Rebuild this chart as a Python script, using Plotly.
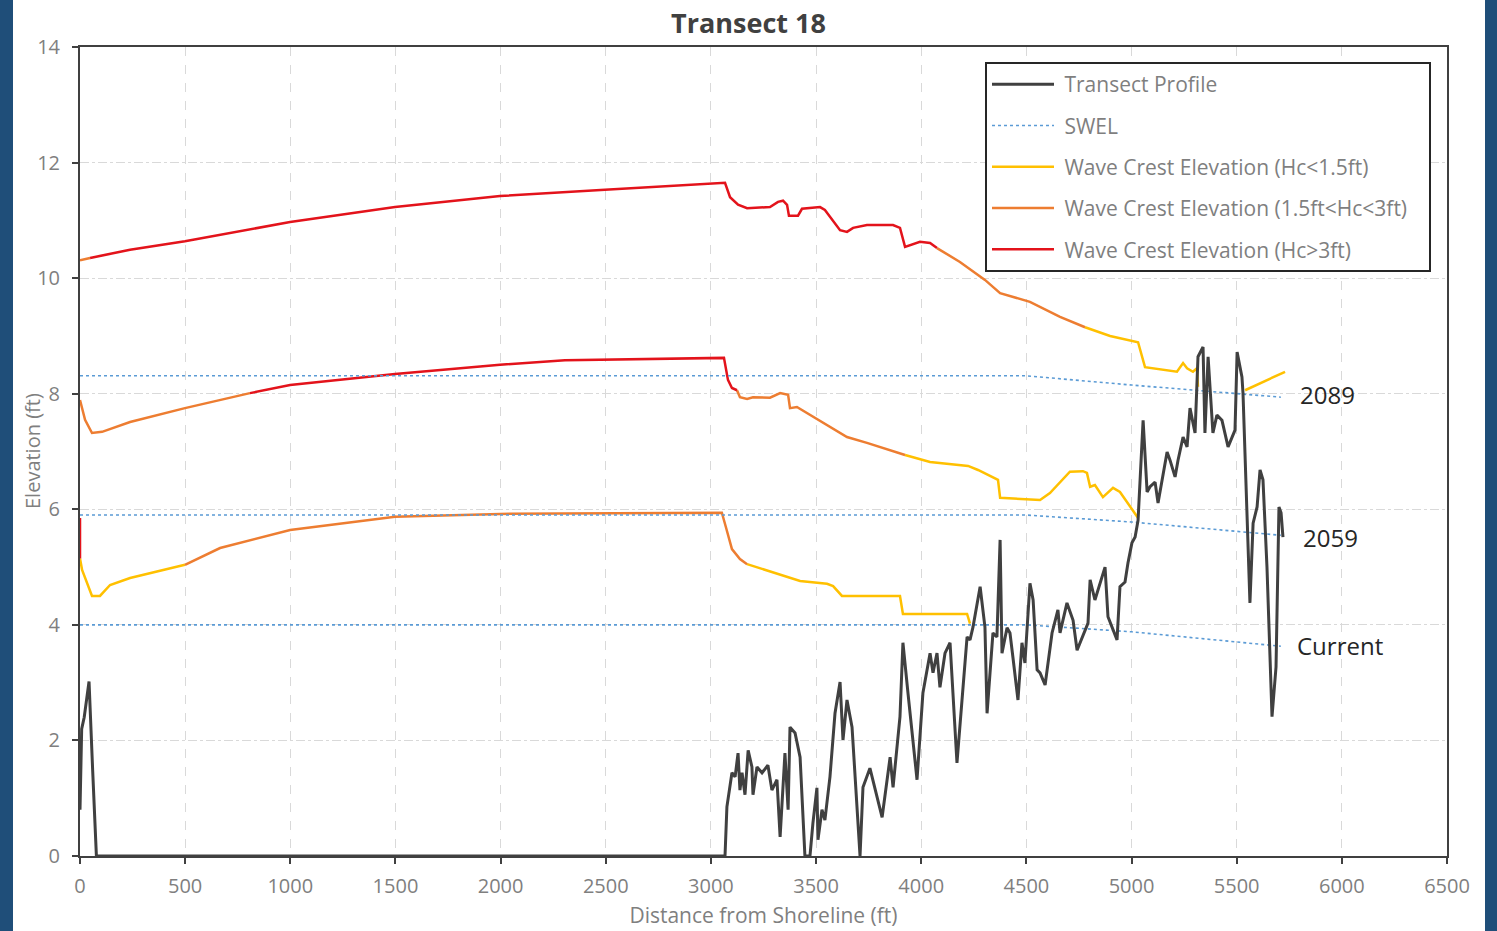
import plotly.graph_objects as go

# ---------------- data ----------------
profile_x = [0, 8, 20, 43, 60, 78, 3060,
             3067, 3076, 3100, 3115, 3129, 3138, 3148, 3162, 3177, 3195, 3200, 3219, 3243, 3271,
             3290, 3314, 3329, 3352, 3367, 3376, 3400, 3424, 3447, 3471, 3485, 3504, 3509, 3528,
             3542, 3566, 3590, 3614, 3628, 3647, 3671, 3709, 3723, 3756, 3814, 3852, 3866, 3899,
             3913, 3937, 3980, 4008, 4042, 4056, 4075, 4089, 4113, 4137, 4170, 4218, 4232, 4246,
             4280, 4303, 4313, 4341, 4360, 4375, 4384, 4408, 4422, 4436, 4460, 4479, 4493, 4517,
             4532, 4551, 4565, 4589, 4622, 4650, 4660, 4693, 4722, 4741, 4765, 4793, 4803, 4826,
             4874, 4888, 4931, 4945, 4969, 4983, 5002, 5017, 5031, 5055, 5074, 5088, 5112, 5126,
             5169, 5183, 5207, 5221, 5245, 5264, 5278, 5302, 5316, 5340, 5349, 5364, 5387, 5406,
             5430, 5459, 5492, 5502, 5525, 5530, 5563, 5578, 5597, 5611, 5625, 5644, 5668, 5687,
             5701, 5711, 5720]
profile_y = [0.8, 2.2, 2.4, 3.02, 1.5, 0, 0,
             0, 0.85, 1.44, 1.37, 1.78, 1.14, 1.44, 1.06, 1.83, 1.54, 1.06, 1.54, 1.44, 1.57,
             1.14, 1.32, 0.33, 1.78, 0.80, 2.23, 2.13, 1.71, 0, 0, 0.57, 1.18, 0.28, 0.80,
             0.62, 1.37, 2.47, 3.01, 2.01, 2.70, 2.23, 0, 1.19, 1.52, 0.67, 1.71, 1.19, 2.41,
             3.69, 2.82, 1.32, 2.82, 3.51, 3.17, 3.51, 2.92, 3.51, 3.69, 1.61, 3.79, 3.74, 3.96,
             4.66, 3.96, 2.47, 3.86, 3.79, 5.47, 3.51, 3.95, 3.86, 3.44, 2.70, 3.69, 3.34, 4.72,
             4.43, 3.22, 3.17, 2.96, 3.86, 4.26, 3.86, 4.38, 4.08, 3.56, 3.79, 4.03, 4.78, 4.43,
             5.00, 4.14, 3.74, 4.66, 4.74, 5.07, 5.42, 5.52, 5.81, 7.54, 6.30, 6.39, 6.47, 6.11,
             6.99, 6.85, 6.56, 6.85, 7.25, 7.08, 7.75, 7.32, 8.64, 8.81, 7.32, 8.64, 7.32, 7.63,
             7.54, 7.08, 7.37, 8.72, 8.29, 8.01, 4.38, 5.76, 6.04, 6.68, 6.51, 5.00, 2.41, 3.27,
             6.04, 5.94, 5.52]

# SWEL (still water elevation) for each scenario
swel_x = [0, 4500, 5000, 5710]
swel_current = [4.0, 4.0, 3.88, 3.63]
swel_2059 = [5.90, 5.90, 5.78, 5.55]
swel_2089 = [8.31, 8.31, 8.15, 7.94]

# Wave crest elevation profiles; zone = wave height class of segment starting at the point
# Y: Hc<1.5ft, O: 1.5ft<Hc<3ft, R: Hc>3ft
crest2089_x = [0, 48, 238, 499, 999, 1498, 1997, 2496, 3019, 3067, 3091, 3105, 3129, 3172,
               3281, 3319, 3343, 3362, 3371, 3414, 3433, 3519, 3542, 3614, 3647, 3676, 3742,
               3866, 3899, 3923, 3994, 4042, 4075, 4184, 4303, 4375, 4517, 4660, 4779, 4898,
               5031, 5064, 5216, 5245, 5264, 5292, 5311, 5316, 5430, 5540, 5730]
crest2089_y = [10.31, 10.35, 10.49, 10.64, 10.97, 11.23, 11.42, 11.53, 11.63, 11.65, 11.40,
               11.35, 11.27, 11.21, 11.23, 11.32, 11.34, 11.27, 11.08, 11.08, 11.20, 11.23,
               11.18, 10.83, 10.80, 10.87, 10.92, 10.92, 10.87, 10.54, 10.63, 10.61, 10.52,
               10.28, 9.97, 9.74, 9.59, 9.33, 9.15, 9.00, 8.89, 8.46, 8.38, 8.53, 8.44, 8.38,
               8.44, 8.12, None, 8.06, 8.38]
crest2089_zone = ["O"] + ["R"] * 31 + ["O"] * 6 + ["Y"] * 13

crest2059_x = [0, 24, 57, 105, 238, 499, 808, 999, 1498, 1997, 2306, 3019, 3062, 3081, 3100,
               3124, 3138, 3172, 3200, 3281, 3329, 3367, 3376, 3409, 3647, 3742, 3923, 4042,
               4223, 4270, 4365, 4375, 4565, 4612, 4707, 4769, 4788, 4803, 4826, 4864, 4912,
               4945, 5031]
crest2059_y = [7.89, 7.55, 7.32, 7.34, 7.51, 7.75, 8.01, 8.15, 8.34, 8.50, 8.58, 8.62, 8.62,
               8.24, 8.10, 8.06, 7.94, 7.91, 7.94, 7.93, 8.01, 7.98, 7.75, 7.77, 7.25, 7.15,
               6.94, 6.82, 6.75, 6.68, 6.51, 6.20, 6.16, 6.28, 6.65, 6.66, 6.63, 6.39, 6.42,
               6.21, 6.37, 6.30, 5.85]
crest2059_zone = ["O"] * 6 + ["R"] * 9 + ["O"] * 11 + ["Y"] * 17

crestcur_x = [0, 0, 10, 57, 95, 143, 238, 499, 666, 999, 1498, 1997, 3019, 3052, 3072, 3100,
              3138, 3172, 3314, 3424, 3552, 3581, 3623, 3899, 3913, 4218, 4232]
crestcur_y = [5.85, 5.15, 4.95, 4.50, 4.50, 4.69, 4.81, 5.04, 5.33, 5.64, 5.87, 5.92, 5.94,
              5.94, 5.68, 5.31, 5.14, 5.05, 4.88, 4.76, 4.71, 4.67, 4.50, 4.50, 4.19, 4.19,
              4.02]
crestcur_zone = ["R"] + ["Y"] * 6 + ["O"] * 10 + ["Y"] * 10

label_text = ["2089", "2059", "Current"]
label_x = [5930, 5944, 5991]
label_y = [7.99, 5.52, 3.65]

x_ticks = list(range(0, 6501, 500))
y_ticks = list(range(0, 15, 2))

# ---------------- build ----------------
zone_names = {"Y": "Wave Crest Elevation (Hc<1.5ft)",
              "O": "Wave Crest Elevation (1.5ft<Hc<3ft)",
              "R": "Wave Crest Elevation (Hc>3ft)"}
zone_colors = {"Y": "#ffc000", "O": "#ed7d31", "R": "#e3131b"}
pad = "\u00a0"


def split_zones(xs, ys, zones):
    segs = {"Y": ([], []), "O": ([], []), "R": ([], [])}
    i = 0
    n = len(xs)
    while i < n - 1:
        z = zones[i]
        j = i
        while j < n - 1 and zones[j] == z:
            j += 1
        sx, sy = segs[z]
        if sx:
            sx.append(None)
            sy.append(None)
        sx.extend(xs[i:j + 1])
        sy.extend(ys[i:j + 1])
        i = j
    return segs


all_segs = {"Y": ([], []), "O": ([], []), "R": ([], [])}
for xs, ys, zs in [(crest2089_x, crest2089_y, crest2089_zone),
                   (crest2059_x, crest2059_y, crest2059_zone),
                   (crestcur_x, crestcur_y, crestcur_zone)]:
    segs = split_zones(xs, ys, zs)
    for k in segs:
        ax, ay = all_segs[k]
        if segs[k][0]:
            if ax:
                ax.append(None)
                ay.append(None)
            ax.extend(segs[k][0])
            ay.extend(segs[k][1])

fig = go.Figure()

rank = {"Y": 3, "O": 4, "R": 5}
for k in ["Y", "O", "R"]:
    nm = pad + zone_names[k] + (pad * 3 if k == "O" else "")
    fig.add_trace(go.Scatter(x=all_segs[k][0], y=all_segs[k][1], mode="lines",
                             name=nm, legendgroup=k, legendrank=rank[k],
                             line=dict(color=zone_colors[k], width=2.5),
                             connectgaps=False))

sx, sy = [], []
for arr in [swel_2089, swel_2059, swel_current]:
    if sx:
        sx.append(None)
        sy.append(None)
    sx.extend(swel_x)
    sy.extend(arr)
fig.add_trace(go.Scatter(x=sx, y=sy, mode="lines", name=pad + "SWEL", legendgroup="s",
                         legendrank=2, line=dict(color="#5b9bd5", width=1.6, dash="dot")))

fig.add_trace(go.Scatter(x=profile_x, y=profile_y, mode="lines", name=pad + "Transect Profile",
                         legendgroup="p", legendrank=1,
                         line=dict(color="#404040", width=3)))

for t, xx, yy in zip(label_text, label_x, label_y):
    fig.add_annotation(x=xx, y=yy, text=t, showarrow=False, xanchor="center",
                       yanchor="middle", font=dict(size=24, color="#262626",
                                                   family="Open Sans"))

W, H = 1497, 931
L, R, T, B = 80, 50, 47, 75
pw, ph = W - L - R, H - T - B


def px2paper_x(px):
    return (px - L) / pw


def py2paper_y(py):
    return (H - B - py) / ph


# y-axis title placed as rotated text
fig.add_annotation(xref="paper", yref="paper", x=px2paper_x(32), y=py2paper_y(451),
                   text="Elevation (ft)", textangle=-90, showarrow=False,
                   xanchor="center", yanchor="middle",
                   font=dict(size=20, color="#7f7f7f", family="Open Sans"))

blue = "#1f4e79"
fig.add_shape(type="rect", xref="paper", yref="paper",
              x0=px2paper_x(-5), x1=px2paper_x(13), y0=py2paper_y(940), y1=py2paper_y(-10),
              fillcolor=blue, line=dict(width=0), layer="above")
fig.add_shape(type="rect", xref="paper", yref="paper",
              x0=px2paper_x(1485), x1=px2paper_x(1505), y0=py2paper_y(940), y1=py2paper_y(-10),
              fillcolor=blue, line=dict(width=0), layer="above")

axis_common = dict(showline=True, linecolor="#404040", linewidth=2, mirror=True,
                   ticks="outside", ticklen=6, tickwidth=2, tickcolor="#404040",
                   gridcolor="#d9d9d9", gridwidth=1, zeroline=False, automargin=False,
                   tickfont=dict(size=20, color="#7f7f7f", family="Open Sans"))

fig.update_layout(
    width=W, height=H,
    margin=dict(l=L, r=R, t=T, b=B, autoexpand=False),
    paper_bgcolor="white", plot_bgcolor="white",
    title=dict(text="<b>Transect 18</b>", x=0.5, xref="container", xanchor="center",
               y=1 - 24 / H, yref="container", yanchor="middle",
               font=dict(size=27, color="#404040", family="Open Sans")),
    xaxis=dict(range=[0, 6500], tickvals=x_ticks, griddash="dash", ticklabelstandoff=5,
               title=dict(text="Distance from Shoreline (ft)", standoff=10,
                          font=dict(size=21, color="#7f7f7f", family="Open Sans")),
               **axis_common),
    yaxis=dict(range=[0, 14], tickvals=y_ticks, griddash="dashdot", ticklabelstandoff=8,
               **axis_common),
    legend=dict(x=px2paper_x(985), y=py2paper_y(62), xanchor="left", yanchor="top",
                bgcolor="white", bordercolor="#262626", borderwidth=2,
                font=dict(size=21, color="#7f7f7f", family="Open Sans"),
                itemwidth=62, tracegroupgap=11, traceorder="grouped"),
    showlegend=True,
)

fig.write_html("out.html", config={"displayModeBar": False},
               post_script="document.body.style.margin='0px';")
